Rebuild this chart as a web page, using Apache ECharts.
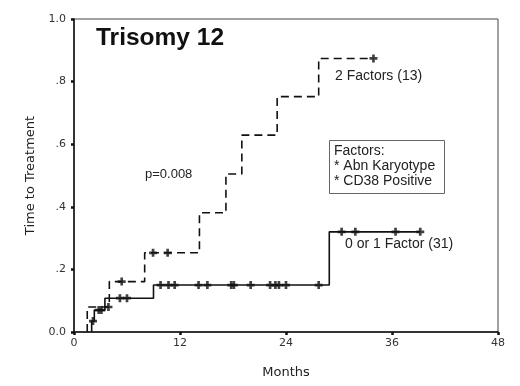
<!DOCTYPE html>
<html>
<head>
<meta charset="utf-8">
<script src="https://cdn.jsdelivr.net/npm/echarts@6/dist/echarts.min.js"></script>
<style>html,body{margin:0;padding:0;background:#fff}#c{width:520px;height:386px}</style>
</head>
<body>
<div id="c"></div>
<script>
// ---- data ----
var xTicks = [0, 12, 24, 36, 48];
var yTickLabels = ['0.0', '.2', '.4', '.6', '.8', '1.0'];

// 2 Factors (13): event times (months) and cumulative proportion after each step
var twoFactorTimes  = [1.5, 1.5, 4.0, 8.0, 14.2, 17.2, 19.0, 23.0, 27.7, 33.9];
var twoFactorValues = [0.0, 0.08, 0.161, 0.253, 0.381, 0.505, 0.629, 0.752, 0.874, 0.874];
var twoFactorCensorTimes  = [3.9, 5.4, 8.95, 10.6, 33.9];
var twoFactorCensorValues = [0.08, 0.161, 0.253, 0.253, 0.874];

// 0 or 1 Factor (31)
var oneFactorTimes  = [2.0, 2.0, 2.3, 3.5, 9.0, 28.9, 39.2];
var oneFactorValues = [0.0, 0.035, 0.07, 0.108, 0.15, 0.32, 0.32];
var oneFactorCensorTimes  = [2.15, 2.8, 3.1, 5.2, 6.0, 9.8, 10.7, 11.4, 14.1, 15.1, 17.8, 18.1, 20.0, 22.2, 22.8, 23.2, 24.0, 27.7, 30.3, 31.85, 36.4, 39.2];
var oneFactorCensorValues = [0.035, 0.07, 0.07, 0.108, 0.108, 0.15, 0.15, 0.15, 0.15, 0.15, 0.15, 0.15, 0.15, 0.15, 0.15, 0.15, 0.15, 0.15, 0.32, 0.32, 0.32, 0.32];

function zip(a, b) { return a.map(function (v, i) { return [v, b[i]]; }); }

var plus = 'path://M2.5,0h2.5v2.5h2.5v2.5h-2.5v2.5h-2.5v-2.5h-2.5v-2.5h2.5z';
var chart = echarts.init(document.getElementById('c'), null, {renderer: 'canvas'});
var tickFont = 'DejaVu Sans';
var textFont = 'Liberation Sans, Arial, sans-serif';

chart.setOption({
  animation: false,
  backgroundColor: '#fff',
  grid: {left: 74, right: 22, top: 19, bottom: 54, show: true, borderColor: '#444', borderWidth: 1},
  xAxis: {
    type: 'value', min: 0, max: 48, interval: 12,
    name: 'Months', nameLocation: 'middle', nameGap: 34,
    nameTextStyle: {fontFamily: tickFont, fontSize: 13, color: '#222'},
    axisLine: {show: true, lineStyle: {color: '#111', width: 1.5}},
    axisTick: {show: true, length: 3, lineStyle: {color: '#111', width: 2.5}},
    axisLabel: {fontFamily: tickFont, fontSize: 11, color: '#333', margin: 6,
      formatter: function (v) { return xTicks.indexOf(v) >= 0 ? String(v) : ''; }},
    splitLine: {show: false}
  },
  yAxis: {
    type: 'value', min: 0, max: 1, interval: 0.2,
    name: 'Time to Treatment', nameLocation: 'middle', nameGap: 37,
    nameTextStyle: {fontFamily: tickFont, fontSize: 13, color: '#222'},
    axisLine: {show: true, lineStyle: {color: '#111', width: 1.5}},
    axisTick: {show: true, length: 3, lineStyle: {color: '#111', width: 2.5}},
    axisLabel: {fontFamily: tickFont, fontSize: 11, color: '#333', margin: 8,
      formatter: function (v) { return yTickLabels[Math.round(v * 5)]; }},
    splitLine: {show: false}
  },
  series: [
    {type: 'line', step: 'end', data: zip(twoFactorTimes, twoFactorValues), showSymbol: false,
      lineStyle: {color: '#111', width: 1.6, type: [8, 5]}},
    {type: 'line', step: 'end', data: zip(oneFactorTimes, oneFactorValues), showSymbol: false,
      lineStyle: {color: '#111', width: 1.6}},
    {type: 'scatter', data: zip(twoFactorCensorTimes, twoFactorCensorValues), symbol: plus, symbolSize: [8, 8],
      itemStyle: {color: '#111'}},
    {type: 'scatter', data: zip(oneFactorCensorTimes, oneFactorCensorValues), symbol: plus, symbolSize: [8, 8],
      itemStyle: {color: '#111'}}
  ],
  graphic: [
    {type: 'text', left: 96, top: 26, style: {text: 'Trisomy 12', fontFamily: textFont, fontWeight: 'bold', fontSize: 24.5, fill: '#111'}},
    {type: 'text', left: 145, top: 168, style: {text: 'p=0.008', fontFamily: textFont, fontSize: 13, fill: '#222'}},
    {type: 'text', left: 335, top: 69, style: {text: '2 Factors (13)', fontFamily: textFont, fontSize: 14, fill: '#222'}},
    {type: 'text', left: 345, top: 237, style: {text: '0 or 1 Factor (31)', fontFamily: textFont, fontSize: 14, fill: '#222'}},
    {type: 'rect', shape: {x: 329.5, y: 140.5, width: 115, height: 53}, style: {fill: '#fff', stroke: '#666', lineWidth: 1}},
    {type: 'text', left: 334, top: 144, style: {text: 'Factors:\n* Abn Karyotype\n* CD38 Positive', lineHeight: 15, fontFamily: textFont, fontSize: 14, fill: '#222'}}
  ]
});
</script>
</body>
</html>
